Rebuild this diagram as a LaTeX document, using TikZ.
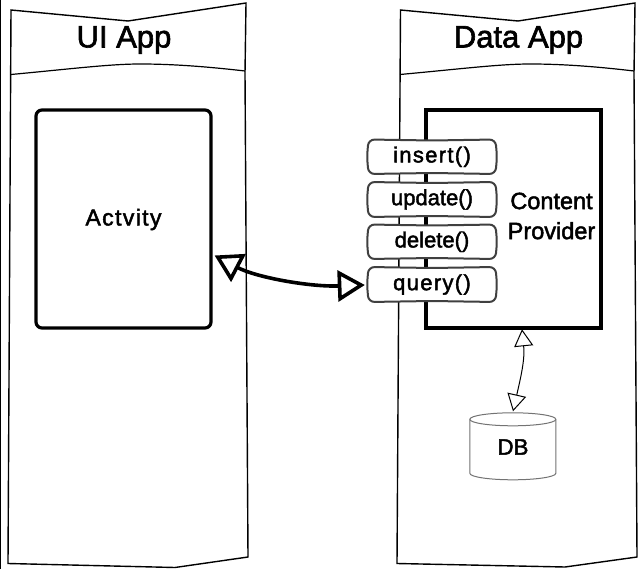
\documentclass[tikz,border=0pt]{standalone}
\usepackage{fontspec}
\setmainfont{Liberation Sans}[FakeBold=2]
\newfontfamily\spacedfont{Liberation Sans}[LetterSpace=6,FakeBold=2]
\usetikzlibrary{arrows.meta}
\tikzset{
  panelline/.style={draw=black,line width=1.4pt,line join=miter},
  headerline/.style={draw=black,line width=1.2pt},
  title/.style={font=\fontsize{31}{31}\selectfont,inner sep=0pt,anchor=center},
  actbox/.style={draw=black,line width=3.2pt,rounded corners=6pt,fill=white,minimum width=175pt,minimum height=218pt,inner sep=0pt},
  provbox/.style={draw=black,line width=3.6pt,fill=white,minimum width=175pt,minimum height=218pt,inner sep=0pt},
  methodtext/.style={font=\fontsize{22}{22}\selectfont,inner sep=0pt,minimum width=128pt,minimum height=35pt},
  methodline/.style={draw=black!75,line width=2pt,fill=white,rounded corners=6pt},
  labeltext/.style={font=\fontsize{23.5}{30}\selectfont,align=center,inner sep=0pt},
  dbline/.style={draw=black!55,line width=1pt,fill=white},
  bigarrow/.style={line width=3.6pt,{Triangle[open,length=27pt,width=31pt,line width=3.6pt]}-{Triangle[open,length=27pt,width=31pt,line width=3.6pt]}},
  smallarrow/.style={line width=1pt,{Triangle[open,length=17pt,width=19pt,line width=1pt]}-{Triangle[open,length=17pt,width=19pt,line width=1pt]}}
}
\newcommand{\methodbox}[4]{%
  \draw[methodline] (368.5,#2) -- (432,#2+1) -- (495.5,#2) -- (497,{(#2+#3)/2}) -- (495.5,#3) -- (432,#3-1) -- (368.5,#3) -- (367,{(#2+#3)/2}) -- cycle;
  \node[methodtext] (#1) at (432,{(#2+#3)/2}) {#4};}
\begin{document}
\begin{tikzpicture}[x=1pt,y=-1pt]
\useasboundingbox (0,0) rectangle (639,569);
\fill[white] (0,0) rectangle (639,569);
% left edge rule
\draw[black,line width=1pt] (0.5,0) -- (0.5,569);
% left panel
\draw[panelline] (11,10) -- (128,21) -- (246,3) -- (245,73) -- (248,557) -- (175,567.5) -- (8,563.5) -- cycle;
\draw[headerline] (11,74.5) .. controls (70,69) and (110,64) .. (140,64) .. controls (175,64) and (210,67) .. (245,71);
\node[title] (uiapp) at (124,40) {UI App};
% right panel
\draw[panelline] (400.5,10) -- (518,21) -- (635,3) -- (634,73) -- (637,557) -- (565,567) -- (397,563.5) -- cycle;
\draw[headerline] (400,74.5) .. controls (460,69) and (500,64) .. (530,64) .. controls (565,64) and (600,67) .. (634,71);
\node[title] (dataapp) at (518.5,40) {Data App};
% activity
\node[actbox] (act) at (123.5,219) {};
\node[font=\spacedfont\fontsize{23}{23}\selectfont,inner sep=0pt] (acttext) at (123.5,219.5) {Actvity};
% provider
\node[provbox] (prov) at (513.5,219) {};
\node[labeltext] (provtext) at (551.5,216) {Content\\Provider};
% methods
\methodbox{ins}{139.5}{174}{{\spacedfont insert()}}
\methodbox{upd}{182}{217}{update()}
\methodbox{del}{224.5}{259}{delete()}
\methodbox{qry}{267}{302}{{\spacedfont query()}}
% database
\node[inner sep=0pt,minimum width=86pt,minimum height=67pt] (db) at (513,446.5) {};
\draw[dbline] (db.north west) ++(0,6.5) arc[start angle=180,end angle=0,x radius=43,y radius=-6.5]
  -- ++(0,54) arc[start angle=0,end angle=-180,x radius=43,y radius=-6.5] -- cycle;
\draw[dbline,fill=none] (db.north west) ++(0,6.5) arc[start angle=180,end angle=360,x radius=43,y radius=-6.5];
\node[font=\fontsize{22.3}{22}\selectfont,inner sep=0pt] (dbtext) at (513,447) {DB};
% connectors
\draw[bigarrow] ([shift={(2,36.5)}]act.east) .. controls +(42,22) and +(-55,2) .. ([shift={(-3,0.5)}]qry.west);
\draw[smallarrow] ([shift={(8.5,-0.5)}]prov.south) .. controls +(3,30) and +(8,-35) .. ([shift={(0,-1.5)}]db.north);
\end{tikzpicture}
\end{document}
